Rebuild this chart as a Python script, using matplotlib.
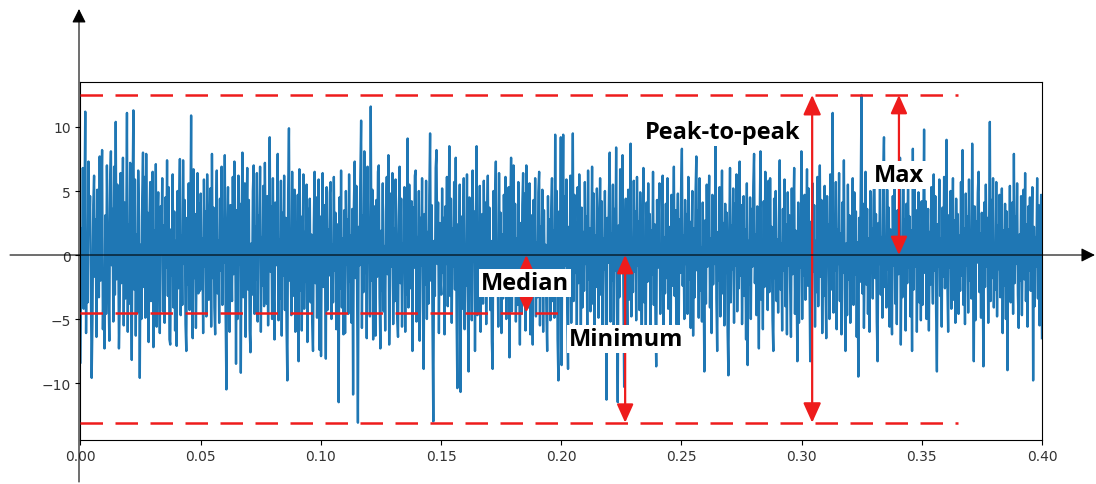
import numpy as np
import matplotlib.pyplot as plt

# signal, 150 samples per 0.05 s
seg1 = [-8.4, 2.1, -1.3, 6.8, -4.2, 3.5, 11.2, -6.1, 0.9, -3.7, 7.3, 1.8, 4.6, -2.4, -9.6,
        -5.1, 3.9, 6.2, -1.7, 2.8, -6.4, 5.1, 0.7, -3.3, 7.7, -2.0, 4.2, 8.2, -5.8, -1.1,
        -7.3, 3.1, -4.6, 7.0, 1.4, -2.9, -6.7, 5.8, 8.1, -0.8, 3.6, -5.2, 6.9, -3.1, 10.4,
        -1.9, 5.5, 2.6, -7.3, -4.0, 6.4, -2.2, 1.2, 7.6, -5.5, 4.1, -3.4, 0.6, 11.1, -6.0,
        2.4, -3.8, 7.2, -1.5, -8.2, 4.8, 11.3, -2.7, 5.9, -6.3, 1.6, -4.5, 6.6, 3.0, -9.6,
        0.8, -5.0, 4.4, 8.0, -2.5, 6.1, -4.9, 7.9, -1.4, 3.3, -6.8, 2.2, 5.7, -3.6, -0.9,
        6.5, -7.2, 1.9, -3.0, 7.1, -5.6, 2.7, 4.9, -2.1, -6.1, 3.8, 0.5, 6.0, -4.4, 2.3,
        -5.3, 4.5, -1.0, 7.4, -3.2, 5.3, -6.6, -7.0, 2.0, -1.6, 6.3, -4.1, 3.4, -5.9, 1.1,
        -7.1, 5.0, -2.6, 3.7, 7.5, -4.7, 1.5, -3.9, 7.4, -0.7, 4.3, -5.4, -7.5, 2.9, -2.3,
        5.6, -4.3, 1.7, 10.9, -3.5, -6.5, 6.7, -1.8, 3.2, -5.7, 0.6, 6.4, -3.0, 4.0, -2.8]
seg2 = [4.8, -2.6, 1.3, -6.1, 5.9, -0.9, 3.4, -4.8, 6.3, 2.0, -3.5, 0.7, 5.2, -5.6, 7.9,
        -1.8, 3.7, -4.1, -6.2, 2.5, 6.6, -3.0, 1.1, -5.3, 4.4, -1.2, 6.9, -3.9, 2.8, -0.6,
        7.8, -4.4, -10.5, 1.6, 5.3, -2.3, -6.0, 3.9, 0.8, -3.6, 6.1, -1.5, 7.3, 2.1, -8.5,
        3.5, -5.0, 6.2, -0.7, 4.0, -9.2, 2.6, 8.0, -3.3, -1.0, 5.6, -6.4, 1.9, 6.8, -2.7,
        4.3, -5.8, -7.6, 0.9, -3.1, 5.0, 7.0, -4.6, 2.2, -1.9, 6.4, -5.2, 3.1, 0.6, 6.9,
        -6.0, 1.4, -2.4, 5.4, -4.0, 7.2, 0.5, -3.8, 4.6, -5.5, 2.7, 9.2, -1.3, 3.8, -5.0,
        6.0, -2.9, -6.6, 4.1, -0.8, 2.4, 7.9, -5.1, 1.2, -3.4, 5.8, -6.3, 3.3, -1.6, 6.2,
        -4.3, 2.9, -5.7, -9.8, 4.9, 9.9, -2.0, 1.0, -4.7, 6.5, -3.2, 0.8, 5.1, -6.0, 2.5,
        -1.1, 4.7, -8.3, 6.7, -2.8, 3.0, -5.9, 0.9, 6.3, -4.2, 1.8, -2.1, 5.5, -6.8, 3.6,
        -0.5, 4.4, -3.7, 1.6, -5.3, -7.5, 2.3, 6.5, -2.2, 4.5, -4.9, 0.7, 5.9, -7.4, 3.0]
seg3 = [-7.9, 1.7, 6.4, -2.5, 3.9, -0.9, -8.1, 5.3, -4.3, 2.0, -1.6, 4.9, 5.7, -5.0, 0.8,
        -3.7, 6.1, -1.2, 3.3, -5.8, 2.4, 0.6, -11.5, 4.5, -2.6, 6.6, -4.1, 1.3, -6.2, 3.5,
        -6.1, 5.0, -0.7, 2.8, -4.6, 6.3, -2.1, 1.5, -5.3, 3.6, -10.9, 4.0, 7.3, -1.8, 5.4,
        -3.0, -13.1, 2.2, -0.8, 6.0, 10.5, -5.7, 3.1, -2.9, 8.1, -1.4, 4.7, -6.5, 6.9, -0.6,
        2.6, -4.8, 11.6, -2.0, 5.1, -6.6, 1.0, 3.8, -6.3, 4.3, -1.7, 6.5, 7.0, -3.3, -7.3,
        1.9, -2.8, 5.6, -4.4, 0.7, -5.9, 3.4, 6.1, -1.5, 7.8, -7.0, -2.4, 4.8, -0.9, 6.4,
        -5.4, 2.1, -3.6, 5.9, 1.2, -4.9, -6.4, 3.0, 6.9, -2.2, 4.4, -5.6, 0.9, -1.3, 5.3,
        -6.0, 2.7, -3.1, 9.1, -4.1, 5.5, 0.6, -2.6, 4.2, -7.5, 3.7, -1.0, 6.2, 6.6, -5.2,
        1.4, -3.5, 5.0, -6.7, 2.9, -0.8, 6.0, -4.0, -8.9, 3.2, -2.3, 5.8, -5.0, 1.8, -3.8,
        4.6, 9.5, -2.0, 3.9, -5.5, -13.0, 1.1, -3.2, 6.8, 8.2, -0.7, 4.1, -6.1, 2.5, -1.9]
seg4 = [-3.1, 5.2, -1.4, 2.9, -6.2, 3.8, -0.7, 6.1, -4.0, 1.5, 8.5, -3.2, 4.4, -5.3, 2.1,
        -0.9, 5.7, -2.7, 7.6, -4.6, -10.4, 2.4, -1.1, 5.5, -10.7, 3.0, -4.2, 1.7, 6.0, -5.8,
        0.6, -2.4, 6.3, -3.5, -9.1, 4.5, -1.3, 2.7, -5.1, 6.6, -0.5, 3.4, -7.5, 1.9, 8.5,
        -4.7, 2.3, -2.0, 5.4, -6.0, 0.8, 3.2, -3.8, 5.8, -1.6, 4.1, -5.4, 2.6, 6.2, -2.5,
        3.7, -4.3, 1.1, -6.8, -8.9, 5.0, -1.9, 4.2, 7.3, -3.0, 0.9, -5.6, 6.4, -2.1, 3.3,
        -6.1, 1.6, -3.4, 4.7, -1.2, 6.1, -5.0, 2.0, -2.6, 5.3, -8.0, 3.6, 7.6, -4.4, 0.7,
        7.0, -2.8, 4.0, -5.2, 1.3, -3.9, 5.7, -0.8, -7.0, 2.5, -4.6, 3.9, 6.4, -1.7, 4.8,
        -5.9, 7.0, -2.3, 1.4, -4.1, 5.6, -6.2, 3.1, -0.6, -7.0, 4.3, -2.9, 6.0, -4.8, 1.0,
        -3.3, 4.9, 6.5, -5.5, 2.2, -1.4, 5.1, -6.0, 3.5, -2.0, 0.8, -4.3, -7.5, 4.6, -1.8,
        2.8, -5.1, 3.6, 6.0, -3.6, 1.9, -4.9, 9.4, -2.4, 5.0, -6.6, -9.8, 3.4, -1.5, 9.2]
seg5 = [-8.6, 3.1, 9.4, -2.7, 4.6, -0.8, 5.9, -4.5, -8.9, 2.2, -1.6, 6.2, -5.3, 1.1, 9.5,
        -3.6, 4.7, -1.4, 2.5, -6.0, 5.3, -2.2, 6.3, 0.9, -6.8, 3.7, -4.1, 1.8, -2.8, 5.7,
        -0.7, 3.0, -5.5, 6.6, -1.9, 2.1, -4.4, 0.6, 6.9, -3.8, 4.8, -6.3, 1.5, -2.5, 5.2,
        2.7, -4.9, 0.8, 6.0, -3.1, 4.2, -5.8, 1.3, -1.1, 5.0, -3.4, -11.3, 2.9, -0.6, 4.5,
        8.0, -5.2, 1.7, -2.0, 5.5, -6.5, 3.6, -1.2, 8.4, -4.0, -11.5, 2.3, -3.3, 6.7, -0.9,
        3.9, 7.8, -2.6, -10.3, 1.2, 4.4, -1.7, -6.1, 5.1, -3.5, 2.0, 8.7, -4.8, 0.7, -2.9,
        5.8, -1.3, 3.4, -5.1, 6.1, -0.8, 2.6, -4.3, 4.9, -2.4, -6.7, 1.6, 6.8, -3.7, 0.9,
        -5.6, 4.1, -2.1, 5.6, -0.6, 3.2, -6.4, 1.9, -1.5, 6.5, -3.9, 2.4, -5.0, -8.7, 4.3,
        -1.0, 2.9, 5.6, -4.6, 0.7, -2.7, 6.2, -5.7, 1.4, -3.0, 4.0, -1.8, 6.0, -4.2, 2.2,
        -0.9, -7.5, 4.7, -2.4, 1.3, 6.9, -3.2, 3.5, -5.4, 0.6, 4.8, -6.2, 2.8, -1.4, 5.1]
seg6 = [8.3, -2.4, 1.5, -5.0, 4.3, -0.7, 3.2, -4.6, 6.1, -1.9, 2.6, -5.7, 0.8, 5.0, -6.3,
        2.1, -3.3, 4.8, 7.7, -1.2, 3.5, -4.9, 6.0, -2.8, 0.6, -5.2, 4.1, -1.5, -9.1, 2.7,
        -3.8, 5.5, -0.9, 2.0, 6.2, -4.1, 1.3, -6.1, 4.7, -2.3, 3.0, -0.7, 8.6, -3.4, -7.5,
        1.8, -2.0, 5.3, -4.8, 0.9, 6.6, -3.0, 2.5, -5.5, 4.0, -1.4, 3.3, -6.0, -9.4, 1.4,
        6.8, -3.7, 2.3, -1.1, 5.2, -5.3, 4.0, -0.8, 6.3, -4.4, 1.7, -2.6, 7.3, -1.6, 3.9,
        -5.4, 0.7, 4.6, -3.2, 2.0, -6.6, 5.6, -8.6, 1.1, -2.3, 4.5, -5.0, 3.6, -0.9, 5.4,
        7.9, -2.2, 1.6, -4.7, 3.8, -1.3, -7.3, 2.7, 8.1, -3.5, 0.5, -5.8, 4.2, -2.5, 6.5,
        -1.0, 3.5, -4.3, 5.8, -2.9, 6.0, -0.6, 2.2, -5.1, -7.5, 4.4, -1.8, 5.0, -3.6, 1.2,
        -4.5, 2.8, 7.4, -2.7, 0.9, -5.9, 3.6, -1.2, 5.9, -4.0, 2.4, -6.2, 4.9, -0.8, 3.1,
        -2.6, -6.4, 5.2, -1.5, 3.0, 6.8, -4.6, 1.9, -2.0, -8.3, 4.1, -5.3, 2.6, -1.0, 8.1]
seg7 = [-5.0, 3.3, -1.6, 4.7, -3.5, 0.8, 6.7, -2.4, 5.2, -0.9, -8.3, 2.6, -4.4, 5.6, -1.3,
        3.9, -5.6, 1.1, -2.9, 6.1, -4.0, 2.3, 7.0, -1.7, 4.3, -6.1, 0.6, -3.2, 5.4, -2.0,
        -6.5, 4.6, -0.8, 2.4, -5.0, 6.3, -2.7, 1.5, 11.1, -4.5, 3.0, -1.2, 5.7, -5.8, 2.0,
        -0.7, 6.4, -3.6, 1.7, -6.2, 4.1, -1.4, 7.4, -2.6, -7.5, 0.9, -4.7, 5.5, -1.9, 3.1,
        -5.3, 2.2, -0.6, 6.0, -3.9, 4.9, -1.5, 3.4, -6.4, 1.0, -9.5, 2.9, -2.1, 5.3, 12.5,
        -3.0, 4.0, -5.7, 0.8, 6.5, -2.3, 3.6, -4.6, 1.3, -6.0, 5.0, -0.9, 2.1, -3.4, 4.4,
        6.6, -1.8, 3.2, -5.2, -8.3, 2.5, -0.7, 5.9, -3.1, 1.4, -4.9, 6.1, 9.2, -2.5, 0.6,
        -4.1, 5.1, -1.1, 3.7, -5.6, 2.0, -2.8, -6.2, 4.6, -0.8, 6.2, -3.8, 1.6, -5.4, 3.5,
        -1.5, 4.5, 7.6, -7.0, 1.2, -3.3, 5.8, -0.6, 2.8, -5.9, 4.0, -2.2, 6.4, -1.0, 3.0,
        -4.8, 1.9, -7.5, 8.3, -2.7, 5.4, -0.9, 3.5, -6.0, 1.1, 4.9, -3.7, 2.3, -5.1, 4.2]
seg8 = [-3.9, 2.0, 9.8, -1.4, 4.2, -5.0, 0.7, 3.6, -5.9, 1.8, -2.3, 5.3, -0.6, -3.8, 6.3,
        -1.2, 4.6, -4.4, -9.1, 2.4, -0.9, 5.9, -3.2, 1.3, -5.6, 3.7, -1.7, 6.1, -2.6, 0.8,
        9.0, -2.1, -6.0, 3.1, -1.0, 5.0, -4.2, 0.6, 6.0, -3.5, 2.7, -5.3, 4.4, -0.7, 3.2,
        -4.6, 1.5, -2.8, 5.7, -1.6, 8.2, -3.9, 2.1, -5.4, 4.8, -0.8, 3.0, -4.5, 5.9, -2.0,
        1.1, -3.4, 8.7, -1.0, -8.3, 3.8, -5.1, 2.6, -0.6, 4.9, 6.5, -2.9, 1.7, -4.9, 3.3,
        -1.3, -8.7, 4.1, -2.5, 5.5, -0.9, 2.9, -5.3, 1.2, 10.4, -3.6, 4.3, -1.8, 6.0, -4.1,
        0.8, -2.7, 5.7, -4.8, 2.3, -1.1, 4.7, -3.3, 0.6, 5.2, -6.1, 1.9, -2.4, 4.0, -5.0,
        3.4, -9.0, 2.0, -1.5, 5.4, -3.7, 0.9, 4.1, -4.6, 7.9, -2.2, 3.0, -0.7, 5.6, -3.1,
        -5.7, 1.6, -2.0, 4.6, -4.7, 0.8, 5.1, -1.9, 6.4, -3.6, 2.4, -5.6, 3.8, -1.2, 4.5,
        -2.8, 0.7, 5.3, -9.8, 2.2, -4.0, 1.4, -0.9, 6.0, -3.4, 3.9, -5.5, 1.5, 4.7, -6.5]

median_level = -4.5
x_ticks = [0.00, 0.05, 0.10, 0.15, 0.20, 0.25, 0.30, 0.35, 0.40]
y_ticks = [-10, -5, 0, 5, 10]

signal = np.array(seg1 + seg2 + seg3 + seg4 + seg5 + seg6 + seg7 + seg8)
t = np.linspace(0, 0.4, len(signal))
sig_max = signal.max()
sig_min = signal.min()

fig = plt.figure(figsize=(10.96, 4.85), dpi=100)
ax = fig.add_axes([0.0734, 0.0913, 0.8773, 0.7369])
ax.plot(t, signal, color='#1f77b4', lw=1.7)
ax.set_xlim(0, 0.4)
ax.set_ylim(-14.43, 13.49)
ax.set_xticks(x_ticks)
ax.set_xticklabels(['%.2f' % v for v in x_ticks])
ax.set_yticks(y_ticks)
ax.tick_params(labelsize=10, labelcolor='#333333')

red = '#ee1c1c'
dash = (0, (9, 5))
ax.plot([0, 0.365], [sig_max, sig_max], color=red, lw=1.8, ls=dash, zorder=3)
ax.plot([0, 0.365], [sig_min, sig_min], color=red, lw=1.8, ls=dash, zorder=3)
ax.plot([0, 0.2], [median_level, median_level], color=red, lw=1.8, ls=dash, zorder=3)

def red_arrow(x, y0, y1, ms):
    ax.annotate('', xy=(x, y1), xytext=(x, y0),
                arrowprops=dict(arrowstyle='<|-|>,head_length=0.4,head_width=0.18',
                                color=red, lw=1.6, mutation_scale=ms,
                                shrinkA=0, shrinkB=0), zorder=4)

red_arrow(0.3044, sig_min, sig_max, 30)
red_arrow(0.3405, 0, sig_max, 28)
red_arrow(0.2266, sig_min, 0, 28)
red_arrow(0.1855, median_level, 0, 22)

# black coordinate arrows sticking out of the axes
ax.annotate('', xy=(0.999, 0), xytext=(10 / 1096, 0),
            xycoords=('figure fraction', 'data'), textcoords=('figure fraction', 'data'),
            arrowprops=dict(arrowstyle='-|>', color='black', lw=0.8, mutation_scale=21,
                            shrinkA=0, shrinkB=0), annotation_clip=False, zorder=5)
ax.annotate('', xy=(79 / 1096, 1 - 10 / 485), xytext=(79 / 1096, 1 - 483 / 485),
            xycoords='figure fraction', textcoords='figure fraction',
            arrowprops=dict(arrowstyle='-|>', color='black', lw=0.8, mutation_scale=21,
                            shrinkA=0, shrinkB=0), annotation_clip=False, zorder=5)

box = dict(facecolor='white', edgecolor='none', pad=1.5)
lab = dict(ha='center', va='center', fontsize=17, fontweight='bold',
           family='Open Sans', bbox=box, zorder=6)
ax.text(0.2671, 9.61, 'Peak-to-peak', **lab)
ax.text(0.3405, 6.25, 'Max', **lab)
ax.text(0.1849, -2.19, 'Median', **lab)
ax.text(0.2269, -6.56, 'Minimum', **lab)

fig.savefig('out.png', dpi=100)
